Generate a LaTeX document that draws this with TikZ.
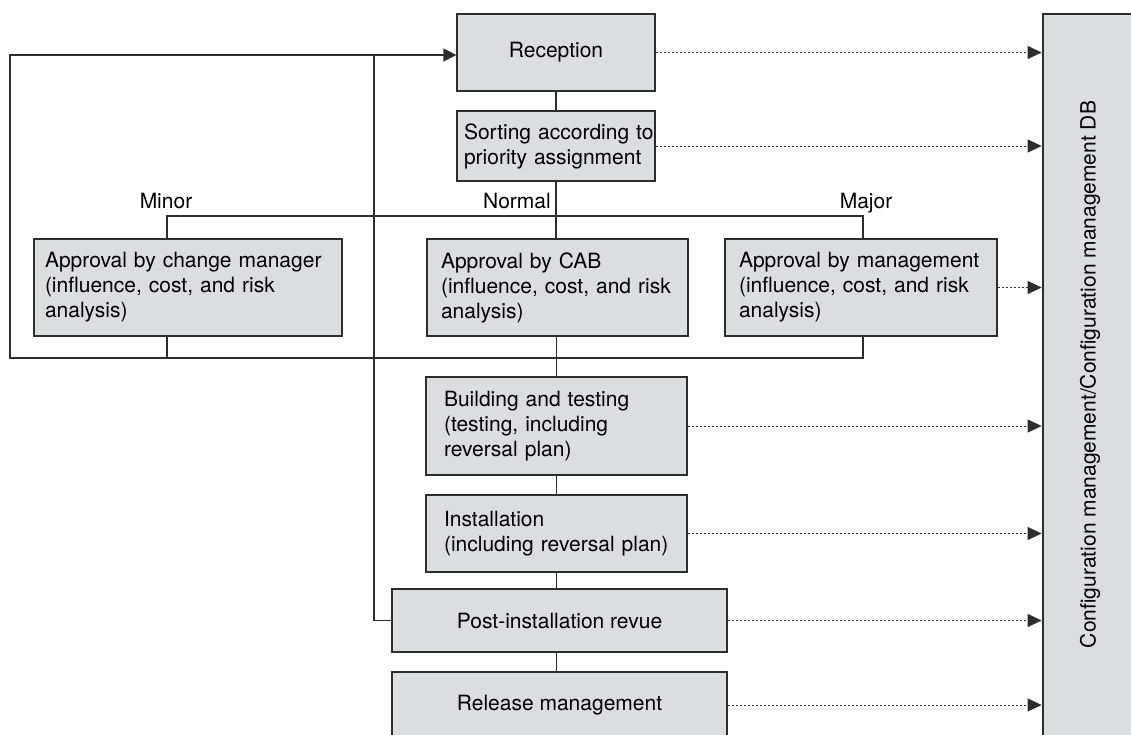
\documentclass[tikz,border=0pt]{standalone}
\usepackage{fontspec}
\setmainfont{TeX Gyre Heros}
\usetikzlibrary{arrows.meta}
\definecolor{boxfill}{RGB}{220,221,223}
\definecolor{ink}{RGB}{45,45,45}

\begin{document}
\begin{tikzpicture}[x=1pt,y=-1pt,
  every node/.style={font=\fontsize{21}{25}\selectfont, text=black},
  proc/.style={draw=ink, fill=boxfill, line width=1.2pt, inner ysep=0pt},
  heavy/.style={draw=ink, fill=boxfill, line width=2.7pt, inner ysep=0pt},
  conn/.style={draw=ink, line width=1.2pt},
  tip/.style={-{Triangle[length=13pt,width=13pt]}},
  feed/.style={draw=ink, line width=1pt, dash pattern=on 2pt off 2pt,
               -{Triangle[length=14pt,width=13pt]}},
  tag/.style={anchor=base, inner sep=0pt}]

\clip (0,0) rectangle (1131,734);

% configuration management database column
\node[heavy, minimum width=107pt, minimum height=746pt, inner sep=0pt] (db) at (1096.5,387) {};
\node[rotate=90] (dbl) at (1090,374.5) {Configuration management/Configuration management DB};

% process steps
\node[proc, minimum width=198pt, minimum height=77pt] (rec) at (556,52.5) {Reception};
\node[proc, align=left, text width=184pt, inner xsep=7pt, minimum height=70pt] (sort) at (556,146)
  {\mbox{Sorting according to}\\\mbox{priority assignment}};

\node[proc, align=left, text width=286pt, inner xsep=11pt, minimum height=97pt] (minor) at (188,287.5)
  {Approval by change manager\\(influence, cost, and risk\\analysis)};
\node[proc, align=left, text width=233pt, inner xsep=14pt, minimum height=97pt] (cab) at (557.5,287.5)
  {Approval by CAB\\(influence, cost, and risk\\analysis)};
\node[proc, align=left, text width=244pt, inner xsep=14pt, minimum height=97pt] (mgmt) at (861,287.5)
  {\mbox{Approval by management}\\(influence, cost, and risk\\analysis)};

\node[proc, align=left, text width=225pt, inner xsep=18pt, minimum height=98pt] (build) at (556.5,426)
  {Building and testing\\(testing, including\\reversal plan)};
\node[proc, align=left, text width=225pt, inner xsep=18pt, minimum height=77pt] (inst) at (556.5,533.5)
  {Installation\\\mbox{(including reversal plan)}};
\node[proc, minimum width=335pt, minimum height=63pt] (post) at (559.5,620.5) {Post-installation revue};
\node[heavy, minimum width=335pt, minimum height=66pt] (rel) at (559.5,705) {Release management};

% priority labels
\node[tag] (lminor) at (166,208) {Minor};
\node[tag, anchor=base east] (lnormal) at (551,208) {Normal};
\node[tag] (lmajor) at (866,208) {Major};

% routing points
\coordinate (split) at (557,216);
\coordinate (loopbl) at (10,358);
\coordinate (looptl) at (10,55);
\coordinate (joint) at (374,55);

% main flow
\draw[conn] (rec) -- (sort);
\draw[conn] (sort.south) -- (sort.south |- cab.north);
\draw[conn] ([xshift=-21pt]minor.north) |- (split) -| ([xshift=2pt]mgmt.north);
\draw[conn] ([xshift=-21pt]minor.south) -- ([xshift=-21pt]minor.south |- loopbl);
\draw[conn, tip] ([xshift=2pt]mgmt.south) |- (loopbl) -- (looptl) -- ([yshift=-2.5pt]rec.west);
\draw[conn] (build.north |- cab.south) -- (build.north);
\draw[conn] (build) -- (inst);
\draw[conn] (inst.south) -- (inst.south |- post.north);
\draw[conn] (post.south -| inst.south) -- (rel.north -| inst.south);
\draw[conn] (post.west) -| (joint);

% updates to the database
\draw[feed] (rec.east) -- (rec.east -| db.west);
\draw[feed] (sort.east) -- (sort.east -| db.west);
\draw[feed] (mgmt.east) -- (mgmt.east -| db.west);
\draw[feed] (build.east) -- (build.east -| db.west);
\draw[feed] (inst.east) -- (inst.east -| db.west);
\draw[feed] (post.east) -- (post.east -| db.west);
\draw[feed] (rel.east) -- (rel.east -| db.west);
\end{tikzpicture}
\end{document}
